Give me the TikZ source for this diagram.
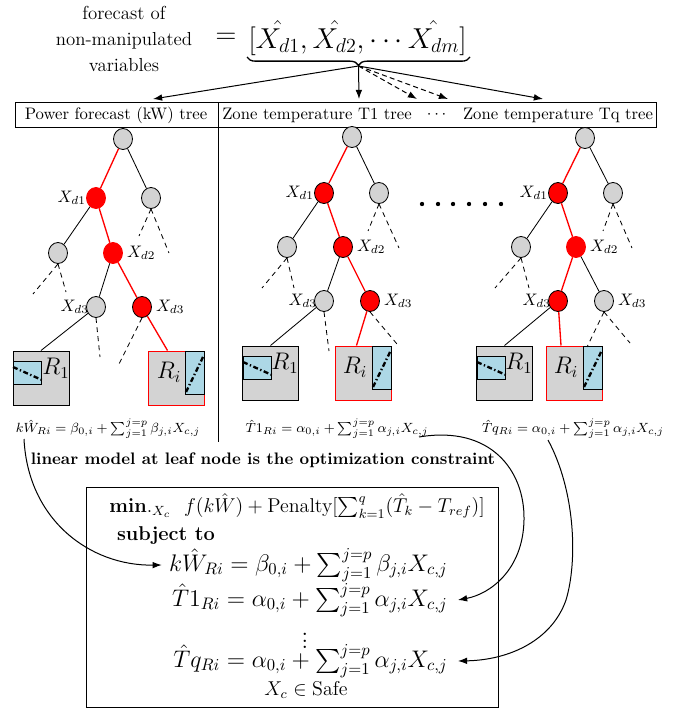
\documentclass[tikz,border=0pt]{standalone}
\usepackage{amsmath}
\usetikzlibrary{shapes.geometric,arrows.meta,calc,decorations.pathreplacing}
\definecolor{lblue}{RGB}{173,216,230}
\definecolor{lgray}{RGB}{211,211,211}
\newcommand\myleafA[2]{%
  \draw[fill=lblue,line width=0.5pt] (#1,#2+10) rectangle (#1+28,#2+33);
  \draw[dd] (#1,#2+16) -- (#1+29,#2+29);}
\newcommand\myleafB[2]{%
  \draw[fill=lblue,line width=0.5pt] (#1-19,#2) rectangle (#1,#2+43);
  \draw[dd] (#1-18,#2+41) -- (#1,#2+4);}
\begin{document}
\begin{tikzpicture}[x=0.6pt,y=-0.6pt,
  gn/.style={ellipse,draw,line width=0.5pt,fill=lgray,minimum width=11.4pt,minimum height=12.6pt,inner sep=0pt},
  rn/.style={gn,fill=red},
  rnr/.style={gn,fill=red,draw=red},
  re/.style={red,line width=0.8pt},
  be/.style={black,line width=0.5pt},
  de/.style={black,line width=0.5pt,dash pattern=on 3pt off 2.5pt},
  dd/.style={black,line width=1.4pt,dash pattern=on 3pt off 1.5pt on 0.8pt off 1.5pt},
  leaf/.style={draw,line width=0.6pt,fill=lgray,minimum width=33.6pt,minimum height=32.4pt,inner sep=0pt},
  leafr/.style={leaf,draw=red},
  lbl/.style={inner sep=0.5pt},
  rl/.style={font=\Large,inner sep=0pt},
  lf/.style={font=\fontsize{8.3}{10}\selectfont},
  arr/.style={line width=0.6pt,-{Latex[length=5.5pt,width=4pt]}},
  darr/.style={arr,dash pattern=on 3pt off 2pt},
]
\useasboundingbox (0,0) rectangle (683,711);

% ---------- top ----------
\node[font=\fontsize{11.3}{15.6}\selectfont,align=center] (lefttxt) at (124,39) {forecast of\\non-manipulated\\variables};
\node[font=\LARGE,inner sep=0] (eqsign) at (226,38) {$=$};
\node[font=\LARGE,inner sep=0] (vec) at (357.5,38) {$[\hat{X_{d1}},\hat{X_{d2}},\cdots\hat{X_{dm}}]$};
\draw[decorate,decoration={brace,mirror,amplitude=5pt},line width=0.8pt] (247,57) -- (470,57);
\coordinate (bt) at (358.5,66);
\coordinate (a1) at (153,99);
\coordinate (a2) at (359,99);
\coordinate (a3) at (417,99);
\coordinate (a4) at (448,99);
\coordinate (a5) at (543,99);
\draw[arr] (bt) -- (a1);
\draw[arr] (bt) -- (a2);
\draw[darr] (bt) -- (a3);
\draw[darr] (bt) -- (a4);
\draw[arr] (bt) -- (a5);

% ---------- header ----------
\node[draw,line width=0.6pt,inner sep=0,minimum width=384.6pt,minimum height=14.4pt] (hdr) at (335.5,115) {};
\coordinate (dvt) at (218,103);
\coordinate (dvb) at (218,442);
\draw[line width=0.6pt] (dvt) -- (dvb);
\node (h1) at (116,115) {Power forecast (kW) tree};
\node (h2) at (317,115) {Zone temperature T1 tree};
\node (h3) at (438,115) {$\cdots$};
\node (h4) at (558,115) {Zone temperature Tq tree};

% ---------- tree 1 ----------
\node[lbl,anchor=east] (t1la) at (87,198) {$X_{d1}$};
\node[lbl,anchor=west] (t1ld) at (126,253) {$X_{d2}$};
\node[lbl,anchor=east] (t1le) at (90,307) {$X_{d3}$};
\node[lbl,anchor=west] (t1lf) at (155,307) {$X_{d3}$};
\node[gn] (t1r) at (123,139) {};
\node[rnr] (t1a) at (96,198) {};
\node[gn] (t1b) at (151,198) {};
\node[gn] (t1c) at (58,253) {};
\node[rnr] (t1d) at (113,253) {};
\node[gn] (t1e) at (96,307) {};
\node[rn] (t1f) at (142,307) {};
\node[leaf] (t1R1) at (41,378) {};
\node[leafr] (t1Ri) at (176,378) {};
\myleafA{13}{351}
\myleafB{204}{351}
\node[rl] (t1R1l) at (56,368) {$R_1$};
\node[rl] (t1Ril) at (169,372) {$R_i$};
\draw[re] (t1r) -- (t1a);
\draw[be] (t1r) -- (t1b);
\draw[be] (t1a) -- (t1c);
\draw[re] (t1a) -- (t1d);
\draw[be] (t1d) -- (t1e);
\draw[re] (t1d) -- (t1f);
\coordinate (t1b1) at (139,236);
\coordinate (t1b2) at (169,253);
\coordinate (t1c1) at (33,294);
\coordinate (t1c2) at (66,292);
\coordinate (t1e1) at (100,357);
\coordinate (t1f1) at (119,364);
\draw[de] (t1b.south) -- (t1b1);
\draw[de] (t1b.south) -- (t1b2);
\draw[de] (t1c.south) -- (t1c1);
\draw[de] (t1c.south) -- (t1c2);
\draw[de] (t1e.south) -- (t1e1);
\draw[de] (t1f.south) -- (t1f1);
\draw[be] (t1e) -- (t1R1.north);
\draw[re] (t1f) -- ($(t1Ri.north west)+(20,0)$);

% ---------- tree 2 ----------
\node[lbl,anchor=east] (t2la) at (315,193) {$X_{d1}$};
\node[lbl,anchor=west] (t2ld) at (356,247) {$X_{d2}$};
\node[lbl,anchor=east] (t2le) at (318,301) {$X_{d3}$};
\node[lbl,anchor=west] (t2lf) at (383,301) {$X_{d3}$};
\node[gn] (t2r) at (352,137) {};
\node[rn] (t2a) at (324,193) {};
\node[gn] (t2b) at (379,193) {};
\node[gn] (t2c) at (287,247) {};
\node[rn] (t2d) at (343,247) {};
\node[gn] (t2e) at (324,301) {};
\node[rn] (t2f) at (370,301) {};
\node[leaf] (t2R1) at (270.5,373) {};
\node[leafr] (t2Ri) at (363,373) {};
\myleafA{243}{346}
\myleafB{391}{346}
\node[rl] (t2R1l) at (285,363) {$R_1$};
\node[rl] (t2Ril) at (355,367) {$R_i$};
\draw[re] (t2r) -- (t2a);
\draw[be] (t2r) -- (t2b);
\draw[be] (t2a) -- (t2c);
\draw[re] (t2a) -- (t2d);
\draw[be] (t2d) -- (t2e);
\draw[re] (t2d) -- (t2f);
\coordinate (t2b1) at (368,231);
\coordinate (t2b2) at (399,248);
\coordinate (t2c1) at (262,288);
\coordinate (t2c2) at (294,288);
\coordinate (t2e1) at (329,351);
\coordinate (t2f1) at (397,344);
\draw[de] (t2b.south) -- (t2b1);
\draw[de] (t2b.south) -- (t2b2);
\draw[de] (t2c.south) -- (t2c1);
\draw[de] (t2c.south) -- (t2c2);
\draw[de] (t2e.south) -- (t2e1);
\draw[de] (t2f.south) -- (t2f1);
\draw[be] (t2e) -- (t2R1.north);
\draw[re] (t2f) -- ($(t2Ri.north west)+(22,0)$);

\foreach \xx in {422,438,453,469,485,501} \fill (\xx,204) circle (1.3pt);

% ---------- tree 3 ----------
\node[lbl,anchor=east] (t3la) at (549,193) {$X_{d1}$};
\node[lbl,anchor=west] (t3ld) at (589,247) {$X_{d2}$};
\node[lbl,anchor=east] (t3le) at (552,301) {$X_{d3}$};
\node[lbl,anchor=west] (t3lf) at (617,301) {$X_{d3}$};
\node[gn] (t3r) at (585,138) {};
\node[rn] (t3a) at (558,193) {};
\node[gn] (t3b) at (613,193) {};
\node[gn] (t3c) at (521,247) {};
\node[rnr] (t3d) at (576,247) {};
\node[rn] (t3e) at (558,301) {};
\node[gn] (t3f) at (604,301) {};
\node[leaf] (t3R1) at (504.5,373) {};
\node[leafr] (t3Ri) at (574.5,373) {};
\myleafA{477}{346}
\myleafB{602}{346}
\node[rl] (t3R1l) at (519,363) {$R_1$};
\node[rl] (t3Ril) at (566,367) {$R_i$};
\draw[re] (t3r) -- (t3a);
\draw[be] (t3r) -- (t3b);
\draw[be] (t3a) -- (t3c);
\draw[re] (t3a) -- (t3d);
\draw[re] (t3d) -- (t3e);
\draw[be] (t3d) -- (t3f);
\coordinate (t3b1) at (603,231);
\coordinate (t3b2) at (632,248);
\coordinate (t3c1) at (495,288);
\coordinate (t3c2) at (529,288);
\coordinate (t3f1) at (587,347);
\coordinate (t3f2) at (630,343);
\draw[de] (t3b.south) -- (t3b1);
\draw[de] (t3b.south) -- (t3b2);
\draw[de] (t3c.south) -- (t3c1);
\draw[de] (t3c.south) -- (t3c2);
\draw[de] (t3f.south) -- (t3f1);
\draw[de] (t3f.south) -- (t3f2);
\draw[be] (t3e) -- (t3R1.north);
\draw[re] (t3e) -- ($(t3Ri.north west)+(15,0)$);

% ---------- leaf formulas ----------
\node[lf] (f1) at (108,429) {$k\hat{W}_{Ri}=\beta_{0,i}+\sum_{j=1}^{j=p}\beta_{j,i}X_{c,j}$};
\node[lf] (f2) at (337,429) {$\hat{T}1_{Ri}=\alpha_{0,i}+\sum_{j=1}^{j=p}\alpha_{j,i}X_{c,j}$};
\node[lf] (f3) at (573,429) {$\hat{T}q_{Ri}=\alpha_{0,i}+\sum_{j=1}^{j=p}\alpha_{j,i}X_{c,j}$};
\node[font=\bfseries] (lm) at (263,460) {linear model at leaf node is the optimization constraint};

% ---------- optimisation box ----------
\node[draw,line width=0.6pt,minimum width=247.2pt,minimum height=132pt,inner sep=0] (obox) at (292,597) {};
\node[font=\large] (minl) at (297,506) {$\mathbf{min.}_{X_c}\ \ f(k\hat{W})+\text{Penalty}[\sum_{k=1}^{q}(\hat{T}_k-T_{ref})]$};
\node[font=\large\bfseries] (subj) at (166,536) {subject to};
\node[font=\Large,anchor=east,inner sep=0] (e1) at (448,565) {$k\hat{W}_{Ri}=\beta_{0,i}+\sum_{j=1}^{j=p}\beta_{j,i}X_{c,j}$};
\node[font=\Large,anchor=east,inner sep=0] (e2) at (448,600) {$\hat{T}1_{Ri}=\alpha_{0,i}+\sum_{j=1}^{j=p}\alpha_{j,i}X_{c,j}$};
\node[font=\Large,inner sep=0] (vd) at (305,636) {$\vdots$};
\node[font=\Large,anchor=east,inner sep=0] (e3) at (448,661) {$\hat{T}q_{Ri}=\alpha_{0,i}+\sum_{j=1}^{j=p}\alpha_{j,i}X_{c,j}$};
\node[font=\large] (safe) at (306,690) {$X_c\in\text{Safe}$};

% ---------- curved arrows ----------
\coordinate (c1s) at (24,439);
\coordinate (c2s) at (419,437);
\coordinate (c3s) at (548,440);
\coordinate (c2m) at (524,520);
\coordinate (c3m) at (566,600);
\draw[arr] (c1s) .. controls (28,520) and (90,566) .. ($(e1.west)+(-7,0)$);
\draw[arr] (c2s) .. controls (490,425) and (525,470) .. (c2m) .. controls (523,570) and (490,594) .. ($(e2.east)+(10,0)$);
\draw[arr] (c3s) .. controls (575,490) and (578,560) .. (c3m) .. controls (552,640) and (510,660) .. ($(e3.east)+(10,0)$);
\end{tikzpicture}
\end{document}
